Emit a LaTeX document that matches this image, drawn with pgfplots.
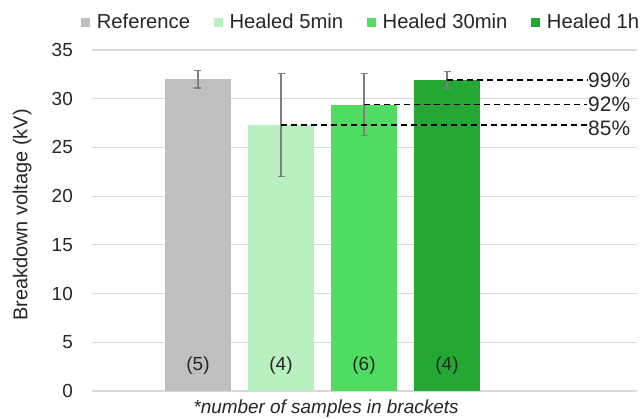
\documentclass[border=0pt]{standalone}
\usepackage{pgfplots}
\pgfplotsset{compat=1.18}
\usepackage{fontspec}
\setmainfont{Liberation Sans}

\definecolor{cref}{HTML}{BFBFBF}
\definecolor{cfive}{HTML}{B8F0C0}
\definecolor{cthirty}{HTML}{50DC60}
\definecolor{chour}{HTML}{22A833}
\definecolor{gridgray}{HTML}{D9D9D9}
\definecolor{errgray}{HTML}{7F7F7F}
\definecolor{txt}{HTML}{262626}

\begin{document}
\begin{tikzpicture}
\path[use as bounding box] (0,0) rectangle (644bp,419bp);
\begin{axis}[
    at={(92bp,28bp)}, anchor=south west,
    scale only axis,
    width=545bp, height=341bp,
    xmin=-1.277, xmax=5.289,
    ymin=0, ymax=35,
    ytick={0,5,...,35},
    xtick=\empty,
    ymajorgrids,
    grid style={gridgray, line width=1.2bp},
    axis line style={draw=none},
    major tick length=0pt,
    clip=false,
    font=\fontsize{19}{22}\selectfont\color{txt},
    /pgf/number format/assume math mode=true,
    yticklabel style={inner sep=0pt, xshift=-19bp},
    ylabel={Breakdown voltage (kV)},
    every axis y label/.style={at={(axis description cs:-0.128,0.516)}, rotate=90, anchor=center, font=\fontsize{20}{24}\selectfont\color{txt}},
    ybar, bar width=66bp, bar shift=0pt,
    legend columns=4,
    legend style={draw=none, fill=none, at={(-0.02,1.082)}, anchor=west,
        inner sep=0pt, font=\fontsize{20.3}{24}\selectfont\color{txt},
        /tikz/every even column/.append style={column sep=17.5bp},
        nodes={inner xsep=6.5bp}},
    legend image code/.code={\fill[#1] (0bp,-4.5bp) rectangle (9bp,4.5bp);},
    error bars/y dir=both, error bars/y explicit,
    error bars/error bar style={errgray, line width=1.1bp},
    error bars/error mark options={errgray, line width=1.1bp, mark size=3.5bp, rotate=90},
]
\addplot[draw=none, fill=cref] coordinates {(0,32.0) +- (0,0.9)};
\addlegendentry{Reference}
\addplot[draw=none, fill=cfive] coordinates {(1,27.3) +- (0,5.25)};
\addlegendentry{Healed 5min}
\addplot[draw=none, fill=cthirty] coordinates {(2,29.4) +- (0,3.22)};
\addlegendentry{Healed 30min}
\addplot[draw=none, fill=chour] coordinates {(3,31.9) +- (0,0.86)};
\addlegendentry{Healed 1h}

\addplot[sharp plot, no marks, black, line width=1.4bp, dash pattern=on 6bp off 4bp, forget plot] coordinates {(3,31.9) (4.687,31.9)};
\addplot[sharp plot, no marks, black, line width=1.4bp, dash pattern=on 6bp off 4bp, forget plot] coordinates {(2,29.4) (4.687,29.4)};
\addplot[sharp plot, no marks, black, line width=1.4bp, dash pattern=on 6bp off 4bp, forget plot] coordinates {(1,27.3) (4.687,27.3)};

\node[anchor=west, inner sep=1bp, font=\fontsize{21}{24}\selectfont\color{txt}] at (axis cs:4.687,31.9) {99\%};
\node[anchor=west, inner sep=1bp, font=\fontsize{21}{24}\selectfont\color{txt}] at (axis cs:4.687,29.4) {92\%};
\node[anchor=west, inner sep=1bp, font=\fontsize{21}{24}\selectfont\color{txt}] at (axis cs:4.687,27.0) {85\%};

\node at (axis cs:0,2.6) {(5)};
\node at (axis cs:1,2.6) {(4)};
\node at (axis cs:2,2.6) {(6)};
\node at (axis cs:3,2.6) {(4)};

\node[anchor=base, yshift=-22.5bp, font=\fontsize{19}{22}\selectfont\itshape\color{txt}] at (axis cs:1.542,0) {*number of samples in brackets};
\end{axis}
\end{tikzpicture}
\end{document}
